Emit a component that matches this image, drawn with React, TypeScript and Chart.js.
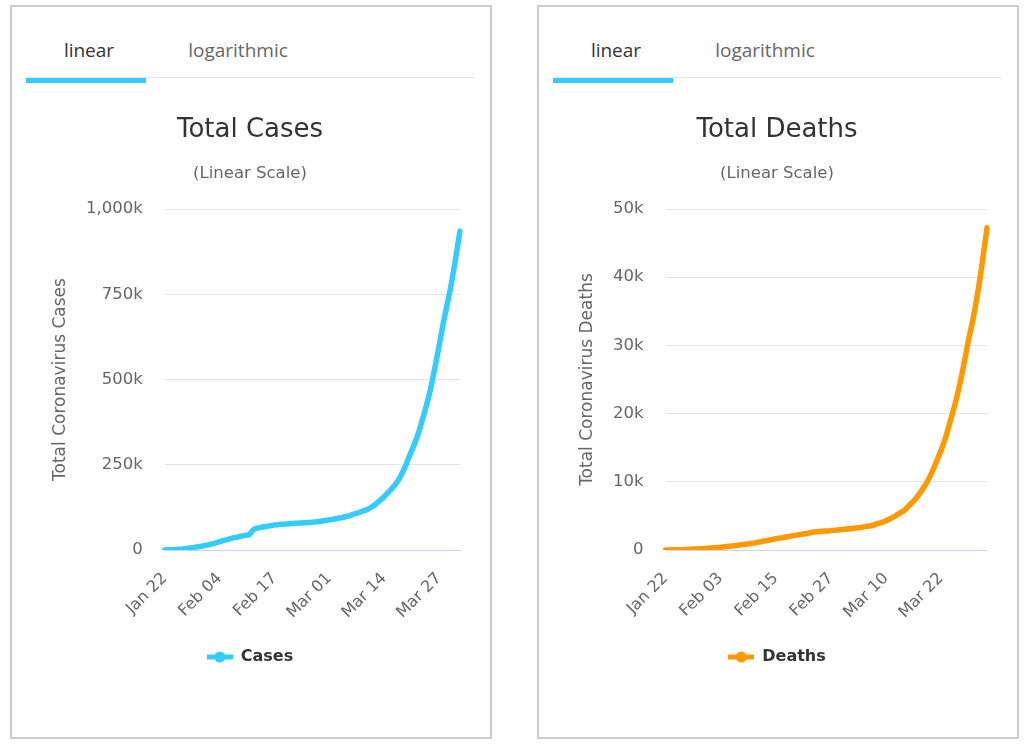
import React, { useEffect, useRef } from "react";
import { Chart, registerables } from "chart.js";

Chart.register(...registerables);

const DATES = [
  "Jan 22", "Jan 23", "Jan 24", "Jan 25", "Jan 26", "Jan 27", "Jan 28", "Jan 29", "Jan 30", "Jan 31",
  "Feb 01", "Feb 02", "Feb 03", "Feb 04", "Feb 05", "Feb 06", "Feb 07", "Feb 08", "Feb 09", "Feb 10",
  "Feb 11", "Feb 12", "Feb 13", "Feb 14", "Feb 15", "Feb 16", "Feb 17", "Feb 18", "Feb 19", "Feb 20",
  "Feb 21", "Feb 22", "Feb 23", "Feb 24", "Feb 25", "Feb 26", "Feb 27", "Feb 28", "Feb 29",
  "Mar 01", "Mar 02", "Mar 03", "Mar 04", "Mar 05", "Mar 06", "Mar 07", "Mar 08", "Mar 09", "Mar 10",
  "Mar 11", "Mar 12", "Mar 13", "Mar 14", "Mar 15", "Mar 16", "Mar 17", "Mar 18", "Mar 19", "Mar 20",
  "Mar 21", "Mar 22", "Mar 23", "Mar 24", "Mar 25", "Mar 26", "Mar 27", "Mar 28", "Mar 29", "Mar 30",
  "Mar 31", "Apr 01",
];

const CASES = [
  580, 845, 1317, 2015, 2800, 4581, 6058, 7813, 9823, 11950,
  14553, 17391, 20630, 24545, 28266, 31439, 34876, 37552, 40553, 43099,
  45134, 59287, 64438, 67100, 69197, 71329, 73332, 75184, 75700, 76677,
  77673, 78651, 79205, 80087, 80828, 81820, 83112, 84615, 86604,
  88585, 90443, 93016, 95314, 98425, 102050, 106099, 109991, 114381, 118948,
  126214, 134509, 145416, 156475, 169517, 182414, 198159, 218744, 244902, 275550,
  304979, 337459, 378830, 422574, 471035, 531865, 596366, 663127, 723390, 784794,
  858361, 935232,
];

const DEATHS = [
  17, 25, 41, 56, 80, 106, 132, 170, 213, 259,
  304, 362, 426, 492, 565, 638, 724, 813, 910, 1018,
  1115, 1261, 1383, 1526, 1669, 1775, 1873, 2009, 2126, 2247,
  2360, 2460, 2618, 2699, 2763, 2800, 2858, 2923, 2977,
  3050, 3117, 3202, 3285, 3387, 3494, 3599, 3827, 4025, 4296,
  4628, 4981, 5428, 5833, 6520, 7162, 7979, 8951, 10030, 11386,
  13011, 14640, 16513, 18905, 21293, 24090, 27352, 30875, 34025, 37790,
  42301, 47245,
];

const CASES_Y_MAX = 1000000;
const CASES_Y_STEP = 250000;
const DEATHS_Y_MAX = 50000;
const DEATHS_Y_STEP = 10000;
const CASES_TICK_EVERY = 13;
const DEATHS_TICK_EVERY = 12;

const CYAN = "#33ccff";
const ORANGE = "#ff9900";
const FONT = "'DejaVu Sans', 'Lucida Sans Unicode', sans-serif";
const TAB_FONT = "'Open Sans', sans-serif";

function fmtK(v: number) {
  if (v === 0) return "0";
  return (v / 1000).toLocaleString("en-US") + "k";
}

function legendSymbol(color: string) {
  const c = document.createElement("canvas");
  c.width = 26;
  c.height = 12;
  const ctx = c.getContext("2d")!;
  ctx.strokeStyle = color;
  ctx.lineWidth = 5;
  ctx.beginPath();
  ctx.moveTo(0, 6);
  ctx.lineTo(26, 6);
  ctx.stroke();
  ctx.fillStyle = color;
  ctx.beginPath();
  ctx.arc(13, 6, 5.5, 0, Math.PI * 2);
  ctx.fill();
  return c;
}

type PanelProps = {
  dx: number;
  title: string;
  yTitle: string;
  label: string;
  data: number[];
  color: string;
  yMax: number;
  yStep: number;
  tickEvery: number;
};

const CANVAS_W = 425;
const CANVAS_H = 615;

function Panel({ dx, title, yTitle, label, data, color, yMax, yStep, tickEvery }: PanelProps) {
  const ref = useRef<HTMLCanvasElement>(null);

  useEffect(() => {
    if (!ref.current) return;
    const chart = new Chart(ref.current, {
      type: "line",
      data: {
        labels: DATES,
        datasets: [
          {
            label,
            data,
            borderColor: color,
            backgroundColor: color,
            borderWidth: 5.5,
            pointRadius: 0,
            pointHoverRadius: 0,
            pointStyle: legendSymbol(color) as any,
            tension: 0.3,
            fill: false,
            borderCapStyle: "round",
            borderJoinStyle: "round",
          },
        ],
      },
      options: {
        responsive: false,
        animation: false,
        devicePixelRatio: 1,
        layout: { padding: { left: 0, right: 5, top: 0, bottom: 35 } },
        plugins: {
          title: {
            display: true,
            text: title,
            color: "#333333",
            font: { family: FONT, size: 26, weight: "normal" },
            padding: { top: 20, bottom: 8 },
          },
          subtitle: {
            display: true,
            text: "(Linear Scale)",
            color: "#666666",
            font: { family: FONT, size: 16.5, weight: "normal" },
            padding: { top: 10, bottom: 25 },
          },
          legend: {
            display: true,
            position: "bottom",
            labels: {
              usePointStyle: true,
              pointStyleWidth: 26,
              color: "#333333",
              font: { family: FONT, size: 16, weight: "bold" },
              padding: 8,
            },
          },
          tooltip: { enabled: false },
        },
        scales: {
          x: {
            type: "category",
            grid: { display: false, drawTicks: false },
            border: { display: true, color: "#ccd6eb", width: 1 },
            afterFit: (scale: any) => {
              scale.paddingRight = 0;
            },
            ticks: {
              autoSkip: false,
              maxRotation: 45,
              minRotation: 45,
              color: "#666666",
              font: { family: FONT, size: 16 },
              padding: 19,
              callback: function (this: any, val: any, index: number) {
                return index % tickEvery === 0 ? this.getLabelForValue(val) : null;
              },
            },
          },
          y: {
            min: 0,
            max: yMax,
            border: { display: false },
            grid: {
              drawTicks: false,
              color: (ctx: any) => (ctx.tick && ctx.tick.value === 0 ? "#ccd6eb" : "#e6e6e6"),
              lineWidth: 1,
            },
            ticks: {
              stepSize: yStep,
              color: "#666666",
              font: { family: FONT, size: 16.5 },
              padding: 22,
              callback: (v: any) => fmtK(Number(v)),
            },
            title: {
              display: true,
              text: yTitle,
              color: "#666666",
              font: { family: FONT, size: 17, lineHeight: 0.35 },
              padding: { top: 18, bottom: 0 },
            },
          },
        },
      } as any,
    });
    return () => chart.destroy();
  }, []);

  return (
    <>
      <div
        style={{
          position: "fixed",
          left: 10 + dx,
          top: 5,
          width: 482,
          height: 734,
          boxSizing: "border-box",
          border: "2px solid #cccccc",
          background: "#ffffff",
        }}
      />
      <div
        style={{
          position: "fixed",
          left: 26 + dx,
          top: 32,
          width: 126,
          height: 36,
          lineHeight: "36px",
          textAlign: "center",
          fontFamily: TAB_FONT,
          fontSize: 19,
          color: "#333333",
        }}
      >
        linear
      </div>
      <div
        style={{
          position: "fixed",
          left: 178 + dx,
          top: 32,
          width: 120,
          height: 36,
          lineHeight: "36px",
          textAlign: "center",
          fontFamily: TAB_FONT,
          fontSize: 19,
          color: "#666666",
        }}
      >
        logarithmic
      </div>
      <div
        style={{
          position: "fixed",
          left: 26 + dx,
          top: 77,
          width: 448,
          height: 1,
          background: "#e6e6e6",
        }}
      />
      <div
        style={{
          position: "fixed",
          left: 26 + dx,
          top: 78,
          width: 120,
          height: 5,
          background: CYAN,
        }}
      />
      <canvas
        ref={ref}
        width={CANVAS_W}
        height={CANVAS_H}
        style={{
          position: "fixed",
          left: 40 + dx,
          top: 95,
          width: CANVAS_W,
          height: CANVAS_H,
          display: "block",
        }}
      />
    </>
  );
}

export default function App() {
  return (
    <div>
      <Panel
        dx={0}
        title="Total Cases"
        yTitle="Total Coronavirus Cases"
        label="Cases"
        data={CASES}
        color={CYAN}
        yMax={CASES_Y_MAX}
        yStep={CASES_Y_STEP}
        tickEvery={CASES_TICK_EVERY}
      />
      <Panel
        dx={527}
        title="Total Deaths"
        yTitle="Total Coronavirus Deaths"
        label="Deaths"
        data={DEATHS}
        color={ORANGE}
        yMax={DEATHS_Y_MAX}
        yStep={DEATHS_Y_STEP}
        tickEvery={DEATHS_TICK_EVERY}
      />
    </div>
  );
}
